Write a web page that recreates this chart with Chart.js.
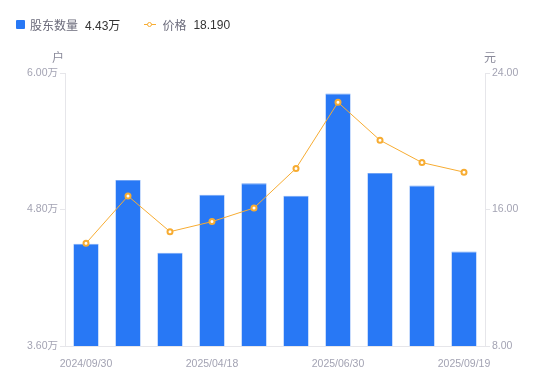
<!DOCTYPE html>
<html>
<head>
<meta charset="utf-8">
<script src="https://cdn.jsdelivr.net/npm/chart.js@4"></script>
<style>
  body { margin: 0; background: #fff; font-family: "Liberation Sans", "Noto Sans CJK SC", sans-serif; }
  #wrap { position: relative; width: 550px; height: 381px; }
  #legend { position: absolute; left: 16px; top: 16px; font-size: 12px; display: flex; align-items: center; }
  .item { display: flex; align-items: center; margin-right: 24px; }
  .lab { color: #6b6b7b; margin-right: 7px; }
  .val { color: #333; }
  .sq { width: 9px; height: 9px; background: #2878f5; border-radius: 1px; margin-right: 5px; }
  .ln { position: relative; width: 12px; height: 9px; margin-right: 6px; }
  .ln:before { content: ''; position: absolute; left: 0; right: 0; top: 4px; height: 1px; background: #f7ac32; }
  .ln:after { content: ''; position: absolute; left: 3px; top: 1.5px; width: 3px; height: 3px; border: 1.5px solid #f7ac32; border-radius: 50%; background: #fff; }
</style>
</head>
<body>
<div id="wrap">
  <div id="legend">
    <div class="item"><span class="sq"></span><span class="lab">股东数量</span><span class="val">4.43万</span></div>
    <div class="item"><span class="ln"></span><span class="lab">价格</span><span class="val">18.190</span></div>
  </div>
  <canvas id="chart" width="550" height="381"></canvas>
</div>
<script>
// data
const dates = ['2024/09/30', '2024/12/31', '2025/03/31', '2025/04/18', '2025/04/30',
  '2025/05/30', '2025/06/30', '2025/07/31', '2025/08/29', '2025/09/19'];
const holders = [4.50, 5.06, 4.42, 4.93, 5.03, 4.92, 5.82, 5.12, 5.01, 4.43]; // 万户
const prices = [14.02, 16.79, 14.70, 15.29, 16.09, 18.41, 22.28, 20.06, 18.75, 18.19];
const leftTicks = [3.6, 4.8, 6.0];
const rightTicks = [8, 16, 24];

const tickColor = '#a3a3b3';
const lineColor = '#e6e6ea';
const tickFont = { size: 10.5, family: '"Liberation Sans", "Noto Sans CJK SC", sans-serif' };

// unit labels above the two y axes
const unitLabels = {
  id: 'unitLabels',
  afterDraw(chart) {
    const ctx = chart.ctx;
    const area = chart.chartArea;
    ctx.save();
    ctx.font = '12px "Noto Sans CJK SC", sans-serif';
    ctx.fillStyle = '#8a8a9a';
    ctx.textAlign = 'center';
    ctx.textBaseline = 'middle';
    ctx.fillText('户', area.left - 7, 57);
    ctx.fillText('元', area.right + 5, 57);
    ctx.restore();
  }
};

new Chart(document.getElementById('chart'), {
  data: {
    labels: dates,
    datasets: [
      {
        type: 'line',
        label: '价格',
        data: prices,
        yAxisID: 'y1',
        borderColor: '#f7ac32',
        borderWidth: 1,
        pointRadius: 2.5,
        pointBorderWidth: 2,
        pointBackgroundColor: '#fff',
        pointBorderColor: '#f7ac32',
        tension: 0,
        order: 0
      },
      {
        type: 'bar',
        label: '股东数量',
        data: holders,
        yAxisID: 'y',
        backgroundColor: '#2878f5',
        borderColor: '#6ea2f5',
        borderWidth: { top: 1, left: 0.5, right: 0.5, bottom: 0 },
        categoryPercentage: 1,
        barPercentage: 0.6,
        order: 1
      }
    ]
  },
  options: {
    responsive: false,
    animation: false,
    layout: { padding: { top: 73, left: 0, right: 0, bottom: 0 } },
    plugins: { legend: { display: false }, tooltip: { enabled: false } },
    scales: {
      x: {
        grid: { display: false },
        border: { color: lineColor },
        afterFit: s => { s.height = 35; },
        ticks: {
          autoSkip: false,
          maxRotation: 0,
          color: tickColor,
          padding: 4,
          font: tickFont,
          callback: function (v, i) { return i % 3 === 0 ? this.getLabelForValue(v) : ''; }
        }
      },
      y: {
        position: 'left',
        min: 3.6,
        max: 6.0,
        afterBuildTicks: s => { s.ticks = leftTicks.map(v => ({ value: v })); },
        afterFit: s => { s.width = 65; },
        grid: { drawOnChartArea: false, color: lineColor, tickLength: 5 },
        border: { color: lineColor },
        ticks: {
          color: tickColor,
          padding: 2,
          font: tickFont,
          callback: v => v.toFixed(2) + '万'
        }
      },
      y1: {
        position: 'right',
        min: 8,
        max: 24,
        afterBuildTicks: s => { s.ticks = rightTicks.map(v => ({ value: v })); },
        afterFit: s => { s.width = 65; },
        grid: { drawOnChartArea: false, color: lineColor, tickLength: 5 },
        border: { color: lineColor },
        ticks: {
          color: tickColor,
          padding: 2,
          font: tickFont,
          callback: v => v.toFixed(2)
        }
      }
    }
  },
  plugins: [unitLabels]
});
</script>
</body>
</html>
